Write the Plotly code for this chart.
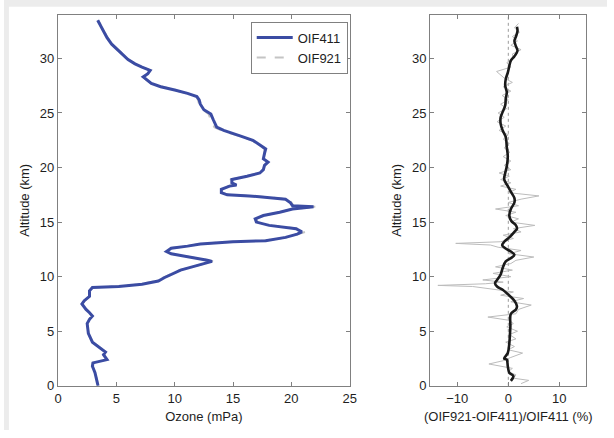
import plotly.graph_objects as go

# ---- Left panel: ozone partial pressure profiles ----
alt_km = [0.0, 1.2, 1.8, 2.1, 2.4, 2.85, 3.1, 3.6, 4.0, 4.8, 5.7, 6.1, 6.4, 6.7, 7.0, 7.5, 7.8, 8.2, 8.7, 9.0,
          9.1, 9.3, 9.6, 9.9, 10.2, 10.6, 10.9, 11.2, 11.4, 11.5, 11.8, 12.1, 12.3, 12.6, 12.8, 13.0, 13.2, 13.3,
          13.6, 13.9, 14.1, 14.4, 14.7, 15.0, 15.3, 15.6, 15.9, 16.2, 16.4, 16.5, 16.8, 17.1, 17.4, 17.5, 17.7,
          18.0, 18.3, 18.4, 18.6, 18.9, 19.2, 19.5, 19.8, 20.2, 20.5, 20.8, 21.3, 21.7, 22.0, 22.5, 22.9, 23.4,
          23.7, 24.0, 24.4, 24.9, 25.3, 25.8, 26.2, 26.5, 26.8, 27.1, 27.4, 27.7, 28.0, 28.3, 28.6, 28.9, 29.2,
          29.5, 29.9, 30.4, 30.8, 31.3, 31.9, 32.5, 32.9, 33.5]
oif411 = [3.43, 3.17, 2.95, 3.0, 4.2, 3.9, 4.07, 3.4, 2.95, 2.6, 2.5, 2.7, 2.95, 2.7, 2.4, 2.05, 2.25, 2.7, 2.7, 2.95,
          5.2, 7.2, 8.6, 9.1, 9.7, 10.5, 11.5, 12.6, 13.2, 12.8, 11.1, 9.7, 9.3, 9.7, 11.1, 12.2, 15.0, 17.8,
          19.5, 20.5, 20.9, 20.4, 18.1, 17.0, 16.9, 17.6, 19.0, 20.1, 21.9, 20.1, 19.9, 19.5, 16.4, 14.5, 14.0,
          14.0, 14.7, 15.3, 14.9, 14.9, 16.2, 17.3, 17.6, 17.7, 18.0, 17.6, 17.7, 17.8, 17.4, 16.7, 15.6, 14.2,
          13.6, 13.5, 13.3, 13.1, 12.5, 12.2, 12.1, 11.9, 11.1, 10.0, 8.8, 8.0, 7.6, 7.3, 7.7, 7.9, 7.2,
          6.6, 6.0, 5.5, 5.1, 4.6, 4.2, 3.9, 3.7, 3.4]
oif921 = [3.45, 3.2, 2.9, 2.95, 4.1, 3.95, 4.1, 3.45, 2.95, 2.62, 2.5, 2.72, 2.85, 2.75, 2.45, 2.08, 2.3, 2.72, 2.7, 2.9,
          4.9, 7.0, 8.4, 9.0, 9.6, 10.4, 11.5, 12.7, 13.3, 12.9, 11.2, 9.7, 9.3, 9.6, 11.0, 12.1, 14.8, 17.6,
          19.6, 20.7, 21.2, 20.6, 18.3, 17.1, 17.0, 17.6, 19.1, 20.0, 22.2, 20.2, 20.0, 19.8, 16.6, 14.6, 14.0,
          14.0, 14.6, 15.3, 14.8, 14.8, 16.1, 17.2, 17.6, 17.7, 18.0, 17.6, 17.7, 17.7, 17.3, 16.6, 15.5, 14.0,
          13.4, 13.3, 13.1, 12.9, 12.4, 12.1, 12.0, 11.9, 11.0, 10.0, 8.8, 8.0, 7.6, 7.3, 7.6, 7.9, 7.2,
          6.6, 6.05, 5.55, 5.2, 4.65, 4.25, 3.95, 3.75, 3.45]

# ---- Right panel: relative difference (%) ----
raw_alt = [0.2, 0.5, 0.7, 1.0, 1.3, 1.6, 2.0, 2.3, 2.6, 3.0, 3.3, 3.6, 4.0, 4.3, 4.7, 5.0, 5.4, 5.7, 6.0, 6.3,
           6.6, 7.0, 7.4, 7.7, 8.0, 8.3, 8.6, 8.9, 9.1, 9.2, 9.35, 9.5, 9.7, 10.0, 10.3, 10.6, 10.9, 11.2, 11.5,
           11.8, 12.1, 12.4, 12.7, 12.9, 13.05, 13.2, 13.5, 13.8, 14.1, 14.4, 14.7, 15.0, 15.3, 15.6, 15.9, 16.2,
           16.5, 16.8, 17.1, 17.4, 17.7, 18.0, 18.3, 18.6, 18.9, 19.2, 19.5, 19.8, 20.2, 20.6, 21.0, 21.4, 21.8,
           22.2, 22.6, 23.0, 23.4, 23.8, 24.2, 24.6, 25.0, 25.4, 25.8, 26.2, 26.6, 27.0, 27.4, 27.8, 28.2, 28.8,
           29.2, 29.6, 30.0, 30.4, 30.8, 31.2, 31.6, 32.0, 32.4, 32.8, 33.2]
raw_diff = [2.5, 4.0, 1.0, 1.5, 0.0, 0.8, -3.8, -1.0, 0.5, 2.8, 0.0, 1.2, -0.5, 1.5, 0.2, 1.8, -0.3, 1.0, 0.2, -4.0,
            1.5, 2.0, 4.5, 0.5, 3.0, -1.5, 1.0, -3.5, -7.0, -13.8, -4.5, -1.0, -5.0, 0.5, -3.0, 0.8, -2.5, 0.5, 1.5,
            5.0, 0.2, 2.5, -2.0, -3.5, -10.3, -1.5, 1.0, -1.0, 2.5, 1.0, 5.2, 0.5, 2.0, -0.5, 1.5, -2.5,
            2.0, 0.0, 2.5, 6.0, 0.0, 1.5, -1.5, 0.5, -1.5, 0.2, -1.8, 0.5, -0.8, 0.5, -1.0, 0.3, -0.8,
            0.2, -1.0, 0.0, -1.8, -0.5, -2.2, -0.8, -2.0, -0.3, -1.5, 0.0, -1.2, 0.5, -1.0, 0.8, -0.8, -2.3,
            0.5, -0.3, 1.0, 0.8, 2.5, 0.5, 1.8, 0.8, 2.2, 1.2, 2.0]
smooth_alt = [0.45, 0.9, 1.2, 1.8, 2.4, 2.5, 3.0, 3.9, 5.4, 6.6, 7.0, 7.3, 7.8, 8.4, 8.8, 9.1, 9.4, 9.7, 10.2, 10.8,
              11.4, 11.7, 12.0, 12.3, 12.6, 12.9, 13.2, 13.6, 14.1, 14.4, 14.7, 15.1, 15.6, 16.2, 16.8, 17.2, 17.7,
              18.3, 18.9, 19.5, 20.1, 21.0, 21.9, 22.8, 23.4, 24.0, 24.6, 25.1, 25.7, 26.3, 26.9, 27.5, 28.1, 28.7,
              29.3, 29.8, 30.2, 30.7, 31.1, 31.6, 32.0, 32.5, 32.9]
smooth_diff = [0.5, 1.0, 0.2, -0.1, -0.3, -0.8, -0.1, 0.2, 0.4, 0.5, 1.5, 1.7, 1.2, -0.1, -1.1, -2.2, -2.6, -2.2, -1.5, -1.1,
               -0.5, 0.5, 1.2, 0.5, -0.6, -1.2, -0.8, 0.2, 1.2, 1.7, 1.5, 0.6, 0.2, 0.5, 1.2, 1.2, 0.6,
               -0.1, -0.8, -0.6, -0.3, -0.1, -0.3, -0.5, -1.1, -1.5, -1.5, -1.1, -0.6, -0.5, -0.3, -0.6, -0.5, -0.1,
               0.2, 0.5, 1.2, 1.8, 1.5, 1.2, 1.5, 1.8, 1.7]

left_xticks = [0, 5, 10, 15, 20, 25]
right_xticks = [-10, 0, 10]
yticks = [0, 5, 10, 15, 20, 25, 30]

W, H = 614, 438
fig = go.Figure()

fig.add_trace(go.Scatter(x=oif921, y=alt_km, mode="lines", name="OIF921",
                         line=dict(color="#c4c4c4", width=2, dash="dash"), xaxis="x", yaxis="y"))
fig.add_trace(go.Scatter(x=oif411, y=alt_km, mode="lines", name="OIF411",
                         line=dict(color="#3b4ca3", width=3), xaxis="x", yaxis="y"))

fig.add_trace(go.Scatter(x=[0, 0], y=[0, 34], mode="lines", showlegend=False,
                         line=dict(color="#9a9a9a", width=1, dash="dot"), xaxis="x2", yaxis="y2"))
fig.add_trace(go.Scatter(x=raw_diff, y=raw_alt, mode="lines", showlegend=False,
                         line=dict(color="#bcbcbc", width=1), xaxis="x2", yaxis="y2"))
fig.add_trace(go.Scatter(x=smooth_diff, y=smooth_alt, mode="lines", showlegend=False,
                         line=dict(color="#1a1a1a", width=2.6, shape="spline"), xaxis="x2", yaxis="y2"))

FONT = "Liberation Sans, Arial"
ax_common = dict(showline=True, mirror="ticks", linecolor="#808080", linewidth=1.2,
                 ticks="inside", ticklen=4, tickcolor="#808080", showgrid=False, zeroline=False,
                 tickfont=dict(family=FONT, size=13, color="#1e1e1e"))
title_font = dict(family=FONT, size=13, color="#1e1e1e")

fig.update_layout(
    width=W, height=H,
    margin=dict(l=0, r=0, t=0, b=0),
    paper_bgcolor="white", plot_bgcolor="white",
    xaxis=dict(domain=[55 / W, 352 / W], range=[0, 25], tickvals=left_xticks,
               title=dict(text="Ozone (mPa)", font=title_font, standoff=7), **ax_common),
    yaxis=dict(domain=[(H - 393) / H, (H - 15) / H], range=[0, 34], tickvals=yticks,
               title=dict(text="Altitude (km)", font=title_font, standoff=7), **ax_common),
    xaxis2=dict(domain=[434 / W, 593 / W], range=[-15.3, 15.3], tickvals=right_xticks, anchor="y2",
                title=dict(text="(OIF921-OIF411)/OIF411 (%)", font=title_font, standoff=7), **ax_common),
    yaxis2=dict(domain=[(H - 393) / H, (H - 15) / H], range=[0, 34], tickvals=yticks, anchor="x2",
                title=dict(text="Altitude (km)", font=title_font, standoff=7), **ax_common),
    legend=dict(x=350 / W, xanchor="right", y=(H - 22) / H, yanchor="top",
                bgcolor="white", bordercolor="#808080", borderwidth=1,
                font=dict(family=FONT, size=13, color="#1e1e1e"),
                traceorder="reversed", tracegroupgap=0, itemwidth=36),
    showlegend=True,
)

# faint grey frame at the top and left edges of the picture
fig.add_shape(type="rect", xref="paper", yref="paper", x0=0, x1=1, y0=(H - 7) / H, y1=1,
              fillcolor="#ececec", line=dict(width=0), layer="below")
fig.add_shape(type="rect", xref="paper", yref="paper", x0=0, x1=5 / W, y0=0, y1=1,
              fillcolor="#ececec", line=dict(width=0), layer="below")

fig.write_html("out.html")
